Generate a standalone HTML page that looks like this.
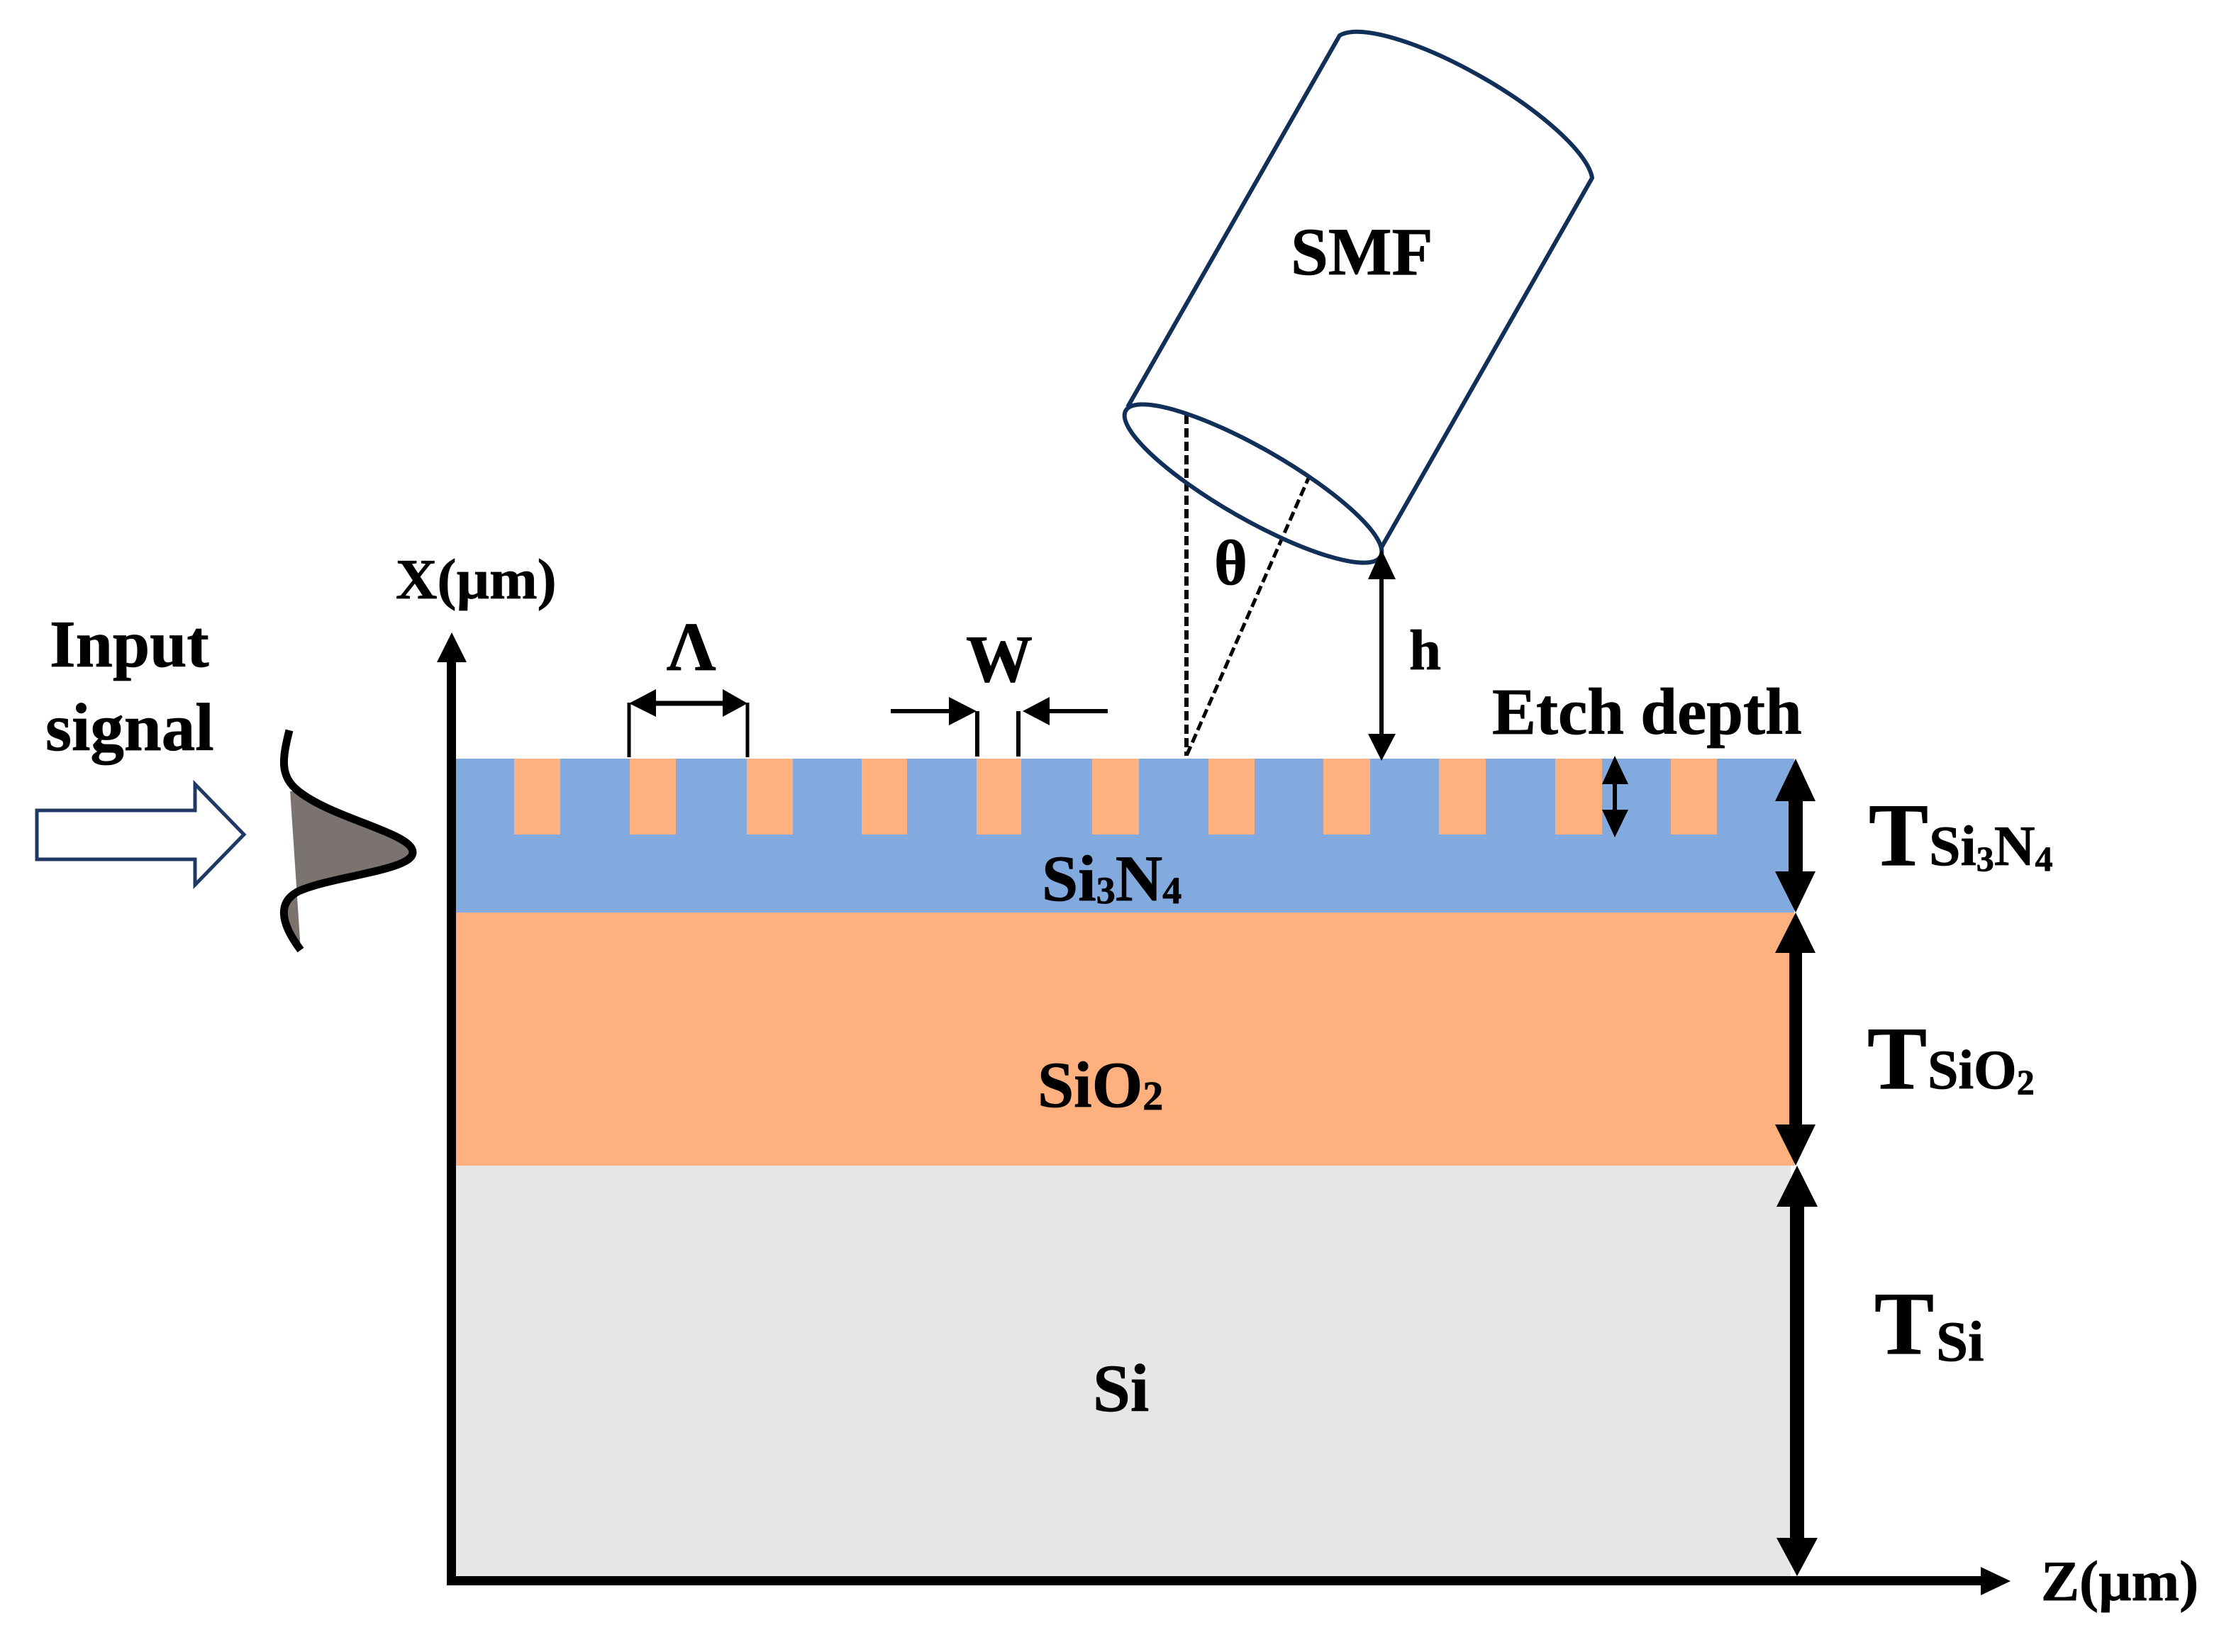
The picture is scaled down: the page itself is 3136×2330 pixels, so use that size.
<!DOCTYPE html>
<html>
<head>
<meta charset="utf-8">
<style>
html,body{margin:0;padding:0;background:#fff;width:3136px;height:2330px;overflow:hidden}
svg{display:block}
text{font-family:"Liberation Serif",serif;font-weight:bold;fill:#000;stroke:#000;stroke-width:.8px}
</style>
</head>
<body>
<svg width="3136" height="2330" viewBox="0 0 3136 2330" xmlns="http://www.w3.org/2000/svg">
<rect width="3136" height="2330" fill="#fff"/>
<!-- layers -->
<rect x="640" y="1070" width="1890" height="217" fill="#83AADF"/>
<rect x="640" y="1287" width="1890" height="357" fill="#FFB07F"/>
<rect x="640" y="1644" width="1885" height="580" fill="#E6E6E6"/>
<!-- teeth -->
<g fill="#FFB07F">
<rect x="725" y="1070" width="65" height="107"/>
<rect x="888" y="1070" width="65" height="107"/>
<rect x="1053" y="1070" width="65" height="107"/>
<rect x="1215" y="1070" width="64" height="107"/>
<rect x="1377" y="1070" width="63" height="107"/>
<rect x="1540" y="1070" width="66" height="107"/>
<rect x="1704" y="1070" width="65" height="107"/>
<rect x="1866" y="1070" width="66" height="107"/>
<rect x="2029" y="1070" width="66" height="107"/>
<rect x="2193" y="1070" width="66" height="107"/>
<rect x="2356" y="1070" width="65" height="107"/>
</g>
<!-- axes -->
<rect x="630" y="930" width="13" height="1306" fill="#000"/>
<polygon points="637,892 658,934 616,934" fill="#000"/>
<rect x="630" y="2223" width="2170" height="13" fill="#000"/>
<polygon points="2835,2230 2793,2210 2793,2250" fill="#000"/>
<!-- input arrow -->
<polygon points="52,1143 275,1143 275,1106 344,1177 275,1248 275,1212 52,1212" fill="#fff" stroke="#1F3864" stroke-width="5"/>
<!-- gaussian -->
<path d="M404,1040 C398,1075 400,1095 421,1116 C470,1155 582,1175 582,1202 C582,1228 470,1235 421,1257 C395,1272 398,1300 400,1305 C405,1320 415,1330 424,1340 Z" fill="#7A7370"/>
<rect x="396" y="1036" width="18" height="80" fill="#fff"/>
<rect x="396" y="1257" width="8" height="83" fill="#fff"/>
<path d="M408,1030 C398,1070 394,1095 421,1116 C470,1155 582,1175 582,1202 C582,1228 470,1235 421,1257 C392,1272 394,1300 424,1340" fill="none" stroke="#000" stroke-width="11"/>
<!-- dashed -->
<path d="M1673,585 V1066" stroke="#000" stroke-width="6" stroke-dasharray="13 6" fill="none"/>
<path d="M1847,670 L1673,1066" stroke="#000" stroke-width="5" stroke-dasharray="13 6" fill="none"/>
<!-- SMF -->
<path d="M1590,574 L1889,50 A208 58 30 0 1 2245,251 L1948,772" fill="none" stroke="#10305A" stroke-width="6" stroke-linejoin="round"/>
<ellipse cx="1767" cy="682" rx="207" ry="50" transform="rotate(29.8 1767 682)" fill="none" stroke="#10305A" stroke-width="6"/>
<!-- h arrow -->
<path d="M1948,810 V1040" stroke="#000" stroke-width="6"/>
<polygon points="1948,775 1968,817 1929,817" fill="#000"/>
<polygon points="1948,1073 1968,1035 1929,1035" fill="#000"/>
<!-- Lambda dim -->
<path d="M887,991 V1068 M1054,991 V1068" stroke="#000" stroke-width="5" fill="none"/>
<path d="M920,992 H1022" stroke="#000" stroke-width="7"/>
<polygon points="887,992 925,972 925,1011" fill="#000"/>
<polygon points="1054,992 1019,972 1019,1011" fill="#000"/>
<!-- W dim -->
<path d="M1378,1003 V1067 M1436,1003 V1067" stroke="#000" stroke-width="6" fill="none"/>
<path d="M1256,1003 H1345 M1475,1003 H1562" stroke="#000" stroke-width="6"/>
<polygon points="1377,1003 1338,983 1338,1023" fill="#000"/>
<polygon points="1442,1003 1480,983 1480,1023" fill="#000"/>
<!-- etch dim -->
<path d="M2277,1100 V1148" stroke="#000" stroke-width="6"/>
<polygon points="2277,1066 2296,1106 2259,1106" fill="#000"/>
<polygon points="2277,1181 2296,1142 2259,1142" fill="#000"/>
<!-- thick arrows -->
<rect x="2522" y="1125" width="20" height="110" fill="#000"/>
<polygon points="2532,1070 2560,1130 2503,1130" fill="#000"/>
<polygon points="2532,1287 2560,1229 2503,1229" fill="#000"/>
<rect x="2523" y="1340" width="18" height="250" fill="#000"/>
<polygon points="2532,1287 2560,1344 2503,1344" fill="#000"/>
<polygon points="2532,1644 2560,1586 2503,1586" fill="#000"/>
<rect x="2524" y="1695" width="20" height="480" fill="#000"/>
<polygon points="2534,1644 2563,1702 2505,1702" fill="#000"/>
<polygon points="2534,2223 2563,2169 2505,2169" fill="#000"/>
<!-- labels -->
<text x="70" y="940" font-size="94">Input</text>
<text x="64" y="1058" font-size="95">signal</text>
<text x="558" y="844" font-size="81">X(µm)</text>
<text x="940" y="945" font-size="97">Λ</text>
<text x="1362" y="961" font-size="94">W</text>
<text x="1820" y="387" font-size="95">SMF</text>
<text x="1712" y="824" font-size="90">θ</text>
<text x="1987" y="944" font-size="81">h</text>
<text x="2104" y="1035" font-size="93">Etch depth</text>
<text x="1469" y="1270" font-size="92">Si<tspan font-size="54" dy="4">3</tspan><tspan dy="-4">N</tspan><tspan font-size="54" dy="4">4</tspan></text>
<text x="1463" y="1561" font-size="92">SiO<tspan font-size="58" dy="4">2</tspan></text>
<text x="1541" y="1990" font-size="95">Si</text>
<text x="2635" y="1220" font-size="126">T</text>
<text x="2720" y="1220" font-size="80">Si<tspan font-size="50" dy="8">3</tspan><tspan dy="-8">N</tspan><tspan font-size="50" dy="8">4</tspan></text>
<text x="2633" y="1535" font-size="126">T</text>
<text x="2718" y="1535" font-size="78">SiO<tspan font-size="50" dy="8">2</tspan></text>
<text x="2643" y="1909" font-size="126">T</text>
<text x="2730" y="1919" font-size="81">Si</text>
<text x="2878" y="2257" font-size="81">Z(µm)</text>
</svg>
</body>
</html>
